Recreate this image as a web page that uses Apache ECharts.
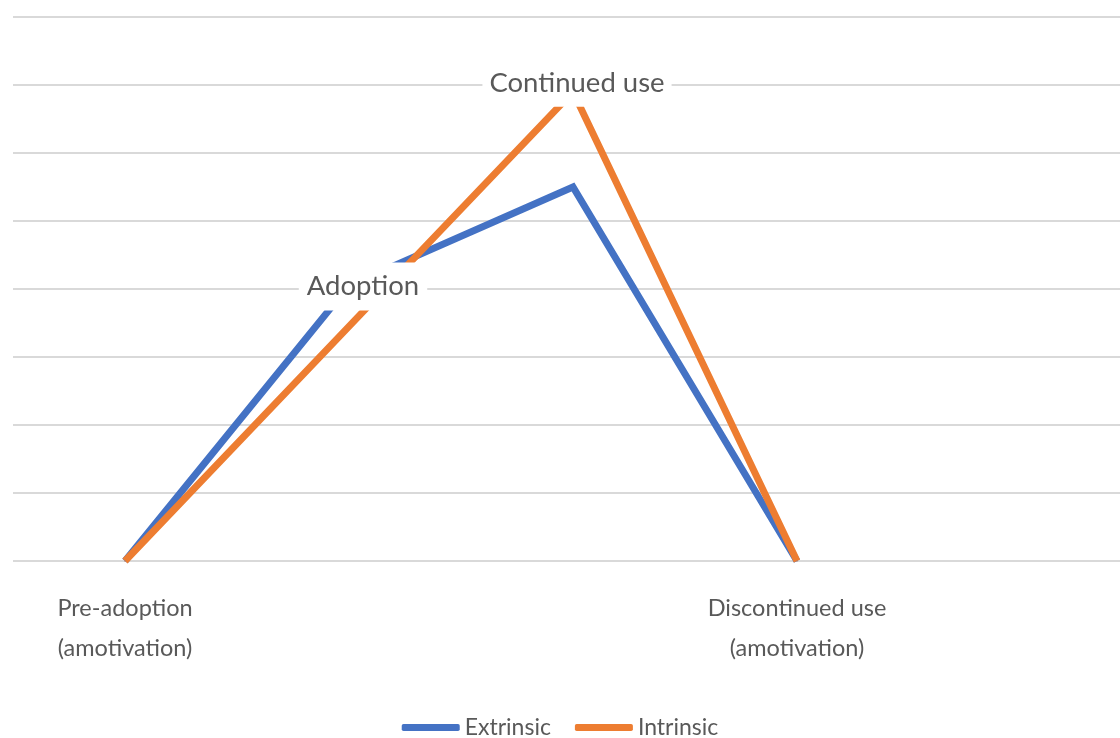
<!DOCTYPE html>
<html>
<head>
<meta charset="utf-8">
<script src="https://cdn.jsdelivr.net/npm/echarts@6/dist/echarts.min.js"></script>
<style>
  html, body { margin: 0; padding: 0; background: #ffffff; }
  #chart { width: 1120px; height: 738px; }
</style>
</head>
<body>
<div id="chart"></div>
<script>
// Stages of the motivation / use cycle
const stages = ['Pre-adoption (amotivation)', 'Adoption', 'Continued use', 'Discontinued use (amotivation)'];
// Text shown under the horizontal axis (middle stages are labelled on the lines instead)
const axisTickText = ['Pre-adoption\n(amotivation)', '', '', 'Discontinued use\n(amotivation)'];
// Stage names written on the curves
const stageCallouts = ['', 'Adoption', 'Continued use', ''];

// Motivation level per stage
const extrinsic = [0, 4.05, 5.5, 0];
const intrinsic = [0, 3.45, 6.9, 0];

const FONT = "Lato, 'Noto Sans', sans-serif";
const TEXT = '#595959';

function calloutStyle(extra) {
  return Object.assign({
    show: true,
    position: 'inside',
    fontFamily: FONT,
    fontSize: 27.5,
    lineHeight: 36,
    color: TEXT,
    backgroundColor: '#ffffff',
    padding: [6, 7]
  }, extra);
}

// The "Adoption" callout sits on the extrinsic curve, "Continued use" on the intrinsic peak
const extrinsicData = extrinsic.map((v, i) => i === 1
  ? { value: v, label: calloutStyle({ formatter: stageCallouts[i], offset: [14, 1], padding: [6, 8] }) }
  : v);
const intrinsicData = intrinsic.map((v, i) => i === 2
  ? { value: v, label: calloutStyle({ formatter: stageCallouts[i], offset: [4, -9] }) }
  : v);

const chart = echarts.init(document.getElementById('chart'), null, { renderer: 'canvas' });

chart.setOption({
  animation: false,
  backgroundColor: '#ffffff',
  grid: {
    left: 13,
    top: 17,
    bottom: 177,
    width: 1120,
    containLabel: false,
    outerBoundsMode: 'none'
  },
  legend: {
    data: ['Extrinsic', 'Intrinsic'],
    left: 'center',
    top: 711,
    itemWidth: 58,
    itemHeight: 7,
    itemGap: 24,
    icon: 'roundRect',
    textStyle: { fontFamily: FONT, fontSize: 23, color: TEXT }
  },
  xAxis: {
    type: 'category',
    data: stages,
    boundaryGap: true,
    max: 4,
    axisLine: { show: false },
    axisTick: { show: false },
    splitLine: { show: false },
    axisLabel: {
      interval: 0,
      margin: 27,
      fontFamily: FONT,
      fontSize: 23.5,
      lineHeight: 40,
      color: TEXT,
      formatter: (value, index) => axisTickText[index] || ''
    }
  },
  yAxis: {
    type: 'value',
    min: 0,
    max: 8,
    interval: 1,
    axisLine: { show: false },
    axisTick: { show: false },
    axisLabel: { show: false },
    splitLine: { show: true, lineStyle: { color: '#d9d9d9', width: 2 } }
  },
  series: [
    {
      name: 'Extrinsic',
      type: 'line',
      data: extrinsicData,
      color: '#4472C4',
      symbol: 'circle',
      symbolSize: 1,
      showSymbol: true,
      lineStyle: { width: 7, color: '#4472C4', join: 'miter', cap: 'butt' },
      itemStyle: { color: '#4472C4' },
      emphasis: { disabled: true },
      silent: true
    },
    {
      name: 'Intrinsic',
      type: 'line',
      data: intrinsicData,
      color: '#ED7D31',
      symbol: 'circle',
      symbolSize: 1,
      showSymbol: true,
      lineStyle: { width: 7, color: '#ED7D31', join: 'miter', cap: 'butt' },
      itemStyle: { color: '#ED7D31' },
      emphasis: { disabled: true },
      silent: true
    }
  ]
});
</script>
</body>
</html>
